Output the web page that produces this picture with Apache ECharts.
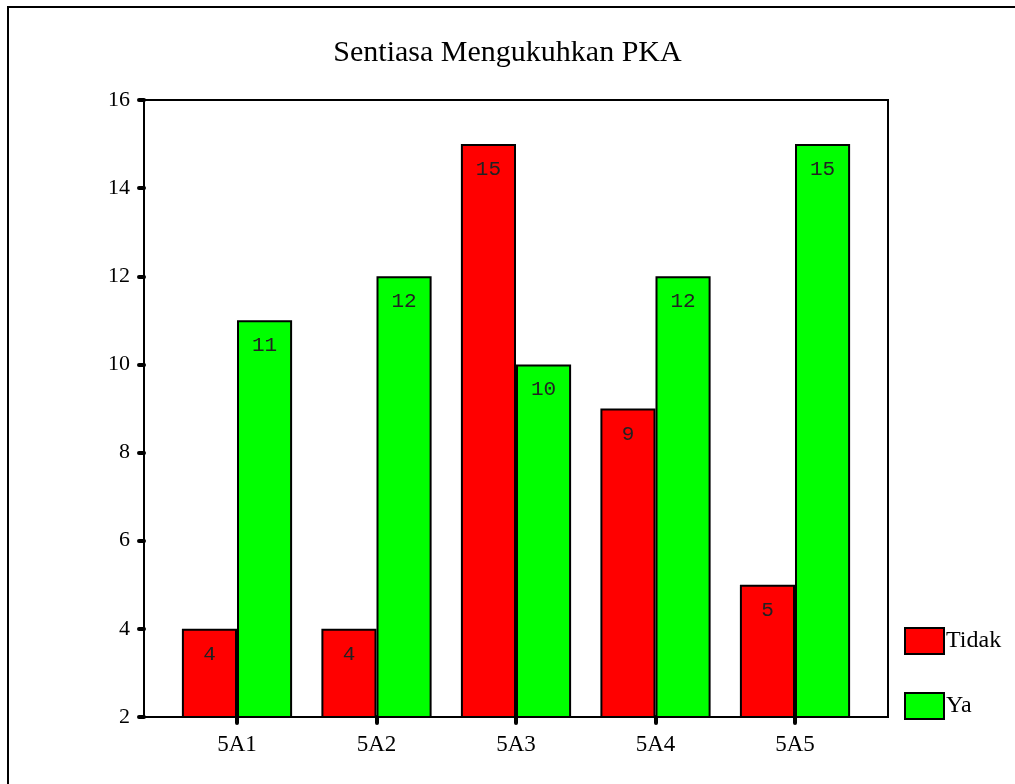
<!DOCTYPE html>
<html>
<head>
<meta charset="utf-8">
<script src="https://cdn.jsdelivr.net/npm/echarts@6/dist/echarts.min.js"></script>
<style>html,body{margin:0;padding:0;background:#fff;}#c{width:1015px;height:784px;}</style>
</head>
<body>
<div id="c"></div>
<script>
var categories = ['5A1', '5A2', '5A3', '5A4', '5A5'];
var tidak = [4, 4, 15, 9, 5];
var ya = [11, 12, 10, 12, 15];
var seriesNames = ['Tidak', 'Ya'];
var titleText = 'Sentiasa Mengukuhkan PKA';
var yMin = 2, yMax = 16, yStep = 2;

var serif = '"Liberation Serif", "Times New Roman", serif';
var mono = '"Liberation Mono", "Courier New", monospace';
var chart = echarts.init(document.getElementById('c'));

function barSeries(name, data, color) {
  return {
    name: name, type: 'bar', xAxisIndex: 1, yAxisIndex: 1, data: data,
    barGap: '0%', barCategoryGap: '21%',
    itemStyle: { color: color, borderColor: '#000', borderWidth: 2 },
    label: { show: true, position: 'insideTop', distance: 15, fontFamily: mono, fontSize: 21, color: '#222' }
  };
}

chart.setOption({
  animation: false,
  backgroundColor: '#fff',
  title: { text: titleText, left: 'center', top: 33,
    textStyle: { fontFamily: serif, fontSize: 30, fontWeight: 'normal', color: '#000' } },
  graphic: [{ type: 'rect', shape: { x: 8, y: 7, width: 1100, height: 1000 },
    style: { fill: 'none', stroke: '#000', lineWidth: 2 }, silent: true }],
  legend: { orient: 'vertical', left: 904, top: 627, padding: 0, itemWidth: 39, itemHeight: 26, itemGap: 37,
    icon: 'rect', data: seriesNames,
    textStyle: { fontFamily: serif, fontSize: 24, color: '#000', padding: [0, 0, 0, -3] } },
  grid: [
    { left: 144, top: 100, width: 744, height: 617, show: true, borderColor: '#000', borderWidth: 2, backgroundColor: 'transparent' },
    { left: 167.25, top: 100, width: 697.5, height: 617 }
  ],
  xAxis: [
    { type: 'category', gridIndex: 0, data: categories, show: false },
    { type: 'category', gridIndex: 1, data: categories,
      axisLine: { show: false },
      axisTick: { show: true, alignWithLabel: true, length: 6, lineStyle: { color: '#000', width: 4, cap: 'round' } },
      axisLabel: { fontFamily: serif, fontSize: 23, color: '#000', margin: 16 } }
  ],
  yAxis: [
    { type: 'value', gridIndex: 0, min: yMin, max: yMax, interval: yStep,
      axisLine: { show: true, lineStyle: { color: '#000', width: 2 } },
      axisTick: { show: true, length: 5, lineStyle: { color: '#000', width: 4, cap: 'round' } },
      axisLabel: { fontFamily: serif, fontSize: 22, color: '#000', margin: 14 },
      splitLine: { show: false } },
    { type: 'value', gridIndex: 1, min: yMin, max: yMax, interval: yStep, show: false, splitLine: { show: false } }
  ],
  series: [
    barSeries(seriesNames[0], tidak, '#ff0000'),
    barSeries(seriesNames[1], ya, '#00ff00')
  ]
});
</script>
</body>
</html>
